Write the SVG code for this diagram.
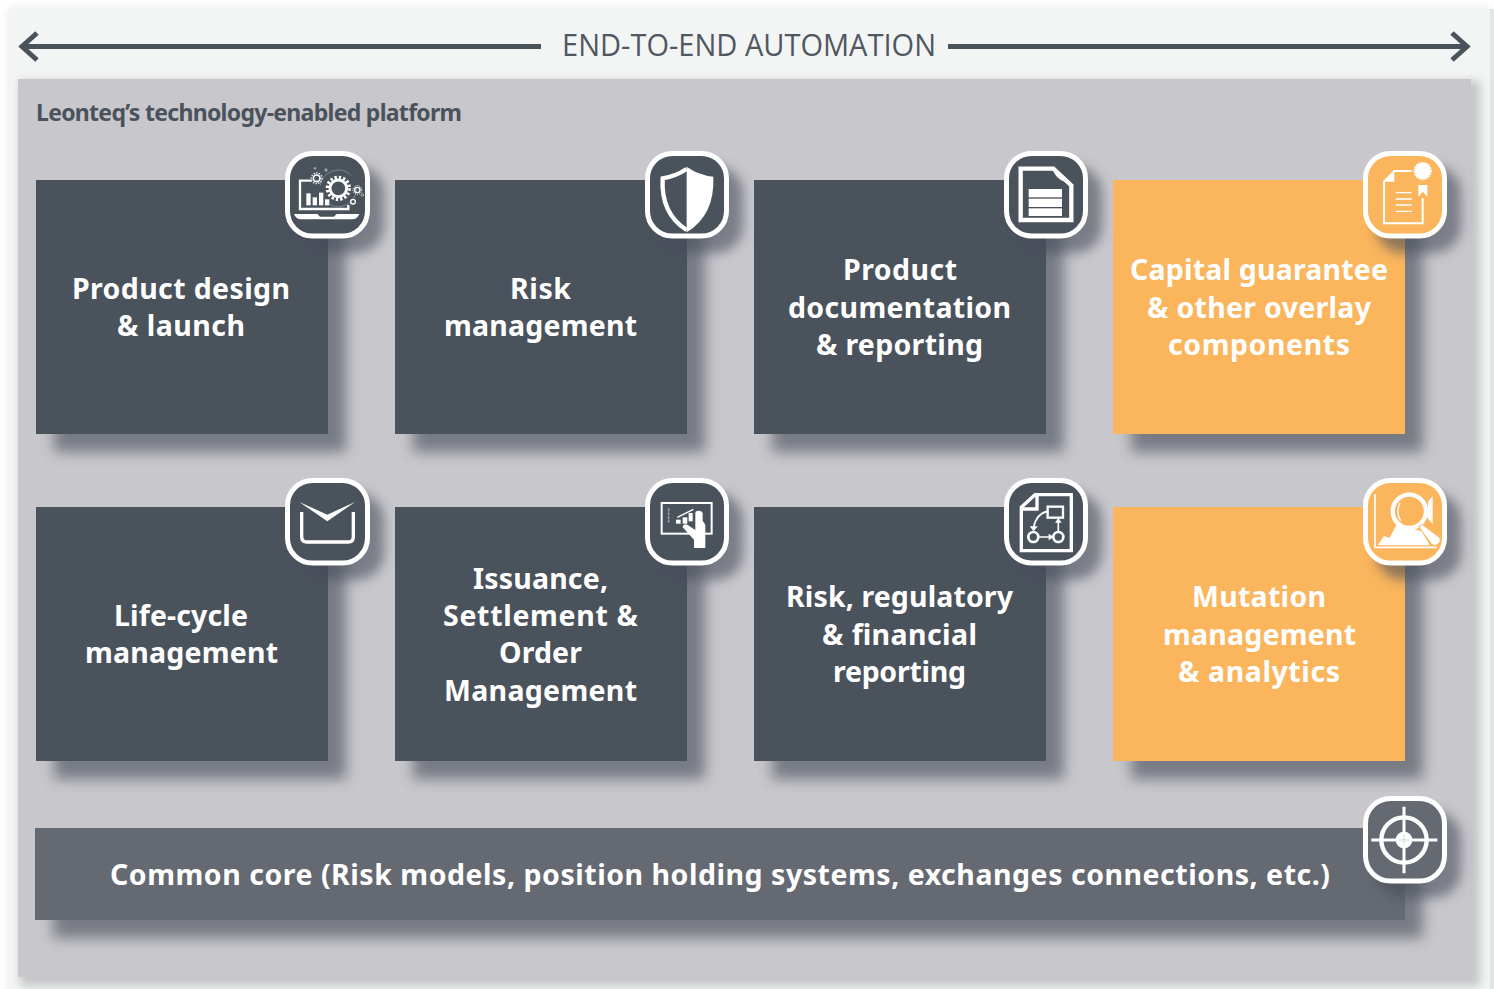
<svg xmlns="http://www.w3.org/2000/svg" width="1494" height="989" viewBox="0 0 1494 989">
<defs>
<filter id="blur" x="-30%" y="-30%" width="160%" height="160%"><feGaussianBlur stdDeviation="7"/></filter>
<filter id="blurS" x="-30%" y="-30%" width="160%" height="160%"><feGaussianBlur stdDeviation="6"/></filter>
<filter id="blurP" x="-5%" y="-5%" width="110%" height="110%"><feGaussianBlur stdDeviation="5"/></filter>
</defs>
<style>
.dark{fill:#4a525c}
.org{fill:#fbb55c}
.core{fill:#656972}
.sh{fill:#474d5a;opacity:.62;filter:url(#blur)}
.bs{fill:#474d5a;opacity:.6;filter:url(#blurS)}
.t{font-family:"Noto Sans","Open Sans",sans-serif;font-weight:700;font-size:28.5px;fill:#fff}
.ol{fill:none;stroke:#fff;stroke-linejoin:miter}
.f{fill:#fff}
.b{stroke:#fff;stroke-width:5}
.ar{fill:none;stroke:#4a525c;stroke-width:5}
</style>
<rect width="1494" height="989" fill="#fff"/>
<rect x="9" y="9" width="1481" height="985" fill="#c9cbcb" opacity=".5" filter="url(#blurP)"/>
<rect x="9" y="9" width="1481" height="980" fill="#f3f5f4"/>
<rect x="1490" y="9" width="4" height="980" fill="#e3e4e4"/>
<rect x="20" y="81" width="1460" height="905" fill="#8a8a90" opacity=".45" filter="url(#blurP)"/>
<rect x="18" y="79" width="1453" height="898" fill="#c8c7cb"/>

<g id="connectors">
<path class="ar" d="M22 46.5H541M37 33L22 46.5L37 60"/>
<path class="ar" d="M948 46.5H1467M1452 33L1467 46.5L1452 60"/>
</g>
<text id="title" x="562" y="56" textLength="374" lengthAdjust="spacingAndGlyphs" style="font-family:'Open Sans','Noto Sans',sans-serif;font-size:31px;fill:#4f5761">END-TO-END AUTOMATION</text>
<text id="subtitle" x="36" y="121" textLength="426" style="font-family:'Noto Sans','Open Sans',sans-serif;font-weight:700;font-size:23px;fill:#4a525c">Leonteq’s technology-enabled platform</text>

<g id="shadows">
<rect class="sh" x="54" y="198" width="292" height="254"/><rect class="sh" x="413" y="198" width="292" height="254"/><rect class="sh" x="772" y="198" width="292" height="254"/><rect class="sh" x="1131" y="198" width="292" height="254"/>
<rect class="sh" x="54" y="525" width="292" height="254"/><rect class="sh" x="413" y="525" width="292" height="254"/><rect class="sh" x="772" y="525" width="292" height="254"/><rect class="sh" x="1131" y="525" width="292" height="254"/>
<rect class="sh" x="53" y="846" width="1370" height="92"/>
</g>

<g id="node-product-design">
<rect class="dark" x="36" y="180" width="292" height="254"/>
<text class="t" x="72" y="299" textLength="218">Product design</text>
<text class="t" x="117" y="336" textLength="128">&amp; launch</text>
<rect class="bs" x="299" y="166" width="85" height="87" rx="27"/>
<rect class="dark b" x="287.5" y="153.5" width="80" height="82.5" rx="25"/>
<g transform="translate(270,140) scale(.3333)">
<path class="ol" stroke-width="7" d="M235 195V207H90V122H125"/>
<path class="f" d="M72 222H142L150 230H192L200 222H268Q262 238 246 238H94Q78 238 72 222Z"/>
<rect class="f" x="109" y="160" width="13" height="36"/><rect class="f" x="128" y="172" width="13" height="24"/><rect class="f" x="147" y="158" width="13" height="38"/><rect class="f" x="165" y="178" width="13" height="18"/>
<circle cx="205" cy="145" r="25" fill="none" stroke="#fff" stroke-width="9"/>
<circle cx="205" cy="145" r="33" fill="none" stroke="#fff" stroke-width="10" stroke-dasharray="7 6"/>
<circle cx="205" cy="145" r="55" fill="none" stroke="#aeb2b8" stroke-width="1.5" stroke-dasharray="120 60"/>
<circle cx="140" cy="115" r="10" fill="none" stroke="#fff" stroke-width="5"/><circle cx="140" cy="115" r="16" fill="none" stroke="#fff" stroke-width="4" stroke-dasharray="4 4"/>
<circle cx="262" cy="150" r="8" fill="none" stroke="#fff" stroke-width="4"/><circle cx="262" cy="150" r="13" fill="none" stroke="#fff" stroke-width="3" stroke-dasharray="3 3"/>
<circle cx="249" cy="185" r="7" fill="none" stroke="#fff" stroke-width="4"/>
<circle cx="277" cy="165" r="4" fill="none" stroke="#aeb2b8" stroke-width="3"/>
<circle cx="135" cy="85" r="4" fill="#9a9ea5"/><circle cx="168" cy="90" r="5" fill="#9a9ea5"/>
</g>
</g>

<g id="node-risk-management">
<rect class="dark" x="395" y="180" width="292" height="254"/>
<text class="t" x="510" y="299" textLength="61">Risk</text>
<text class="t" x="444" y="336" textLength="193">management</text>
<rect class="bs" x="658" y="166" width="85" height="87" rx="27"/>
<rect class="dark b" x="647.5" y="153.5" width="79" height="82.5" rx="25"/>
<g transform="translate(630,140) scale(.3333)">
<path class="f" d="M170 80Q205 105 250 110Q255 225 170 277Z"/>
<path class="ol" stroke-width="13" d="M170 87Q135 110 98 115Q92 220 170 270"/>
</g>
</g>

<g id="node-product-documentation">
<rect class="dark" x="754" y="180" width="292" height="254"/>
<text class="t" x="843" y="280" textLength="114">Product</text>
<text class="t" x="788" y="318" textLength="223">documentation</text>
<text class="t" x="816" y="355" textLength="167">&amp; reporting</text>
<rect class="bs" x="1017" y="166" width="85" height="87" rx="27"/>
<rect class="dark b" x="1006.5" y="153.5" width="79" height="82.5" rx="25"/>
<g transform="translate(990,140) scale(.3333)">
<path class="ol" stroke-width="13" d="M92 86H190L244 136V240H92Z"/>
<path class="f" d="M188 84Q196 124 244 130L192 80Z"/>
<rect class="f" x="116" y="147" width="100" height="25"/><rect class="f" x="116" y="176" width="100" height="25"/><rect class="f" x="116" y="205" width="100" height="23"/>
</g>
</g>

<g id="node-capital-guarantee">
<rect class="org" x="1113" y="180" width="292" height="254"/>
<text class="t" x="1130" y="280" textLength="258">Capital guarantee</text>
<text class="t" x="1147" y="318" textLength="224">&amp; other overlay</text>
<text class="t" x="1168" y="355" textLength="182">components</text>
<rect class="bs" x="1376" y="166" width="85" height="87" rx="27"/>
<rect class="org b" x="1365.5" y="153.5" width="79" height="82.5" rx="25"/>
<g transform="translate(1350,140) scale(.3333)">
<path class="ol" stroke-width="6" d="M185 93H133L102 125V250H218V175"/>
<path class="f" d="M133 93V125H102Z"/>
<path class="ol" stroke-width="4" d="M137 158H185M137 177H185M137 195H185M137 214H185"/>
<circle class="f" cx="218" cy="93" r="24"/><circle cx="218" cy="93" r="25" fill="none" stroke="#fff" stroke-width="5" stroke-dasharray="5 3"/>
<path class="f" d="M205 135H232V170L218 155L205 170Z"/>
</g>
</g>

<g id="node-lifecycle">
<rect class="dark" x="36" y="507" width="292" height="254"/>
<text class="t" x="114" y="626" textLength="134">Life-cycle</text>
<text class="t" x="85" y="663" textLength="193">management</text>
<rect class="bs" x="299" y="493" width="85" height="87" rx="27"/>
<rect class="dark b" x="287.5" y="480.5" width="80" height="82.5" rx="25"/>
<g transform="translate(270,468) scale(.3333)">
<path class="f" d="M88 102L172 140L255 102L172 160Z"/>
<path class="ol" stroke-width="10" d="M95 132V206Q95 222 111 222H235Q250 222 250 206V132"/>
</g>
</g>

<g id="node-issuance">
<rect class="dark" x="395" y="507" width="292" height="254"/>
<text class="t" x="473" y="589" textLength="135">Issuance,</text>
<text class="t" x="443" y="626" textLength="195">Settlement &amp;</text>
<text class="t" x="499" y="663" textLength="83">Order</text>
<text class="t" x="444" y="701" textLength="193">Management</text>
<rect class="bs" x="658" y="493" width="85" height="87" rx="27"/>
<rect class="dark b" x="647.5" y="480.5" width="79" height="82.5" rx="25"/>
<g transform="translate(630,468) scale(.3333)">
<rect class="ol" stroke-width="6" x="95" y="105" width="150" height="92"/>
<path d="M116 118V165M112 125H120M112 137H120M112 149H120M112 160H120" fill="none" stroke="#aeb2b8" stroke-width="2"/>
<path d="M142 148L190 124" fill="none" stroke="#fff" stroke-width="4"/>
<rect class="f" x="138" y="155" width="14" height="12"/><rect class="f" x="158" y="148" width="14" height="19"/><rect class="f" x="176" y="135" width="12" height="25"/>
<path class="f" d="M196 135Q197 128 206 128Q216 128 218 136V158L226 170V240H192V215L158 178Q160 165 172 170L196 186Z"/>
</g>
</g>

<g id="node-risk-regulatory">
<rect class="dark" x="754" y="507" width="292" height="254"/>
<text class="t" x="786" y="607" textLength="227">Risk, regulatory</text>
<text class="t" x="822" y="645" textLength="155">&amp; financial</text>
<text class="t" x="833" y="682" textLength="133">reporting</text>
<rect class="bs" x="1017" y="493" width="85" height="87" rx="27"/>
<rect class="dark b" x="1006.5" y="480.5" width="79" height="82.5" rx="25"/>
<g transform="translate(990,468) scale(.3333)">
<path class="ol" stroke-width="10" d="M94 118L135 80H244V248H94Z"/>
<path class="f" d="M136 78H146V128H94V118H136Z"/>
<rect class="ol" stroke-width="7" x="173" y="116" width="46" height="33"/>
<circle class="ol" stroke-width="8" cx="130" cy="207" r="15"/><circle class="ol" stroke-width="8" cx="205" cy="207" r="15"/>
<path class="ol" stroke-width="5" d="M146 207H180M205 191V160M172 130Q138 138 131 178"/>
<path class="f" d="M176 197L191 207L176 217ZM195 164L205 150L215 164ZM119 175L143 175L131 190Z"/>
</g>
</g>

<g id="node-mutation">
<rect class="org" x="1113" y="507" width="292" height="254"/>
<text class="t" x="1192" y="607" textLength="134">Mutation</text>
<text class="t" x="1163" y="645" textLength="193">management</text>
<text class="t" x="1178" y="682" textLength="162">&amp; analytics</text>
<rect class="bs" x="1376" y="493" width="85" height="87" rx="27"/>
<rect class="org b" x="1365.5" y="480.5" width="79" height="82.5" rx="25"/>
<g transform="translate(1350,468) scale(.3333)">
<path class="ol" stroke-width="5" d="M75 78V238H260"/>
<path class="f" d="M83 232L102 204L118 210L140 170L215 190L240 232Z"/>
<path class="f" d="M235 100L248 85V168L232 150Z"/>
<circle cx="178" cy="130" r="50" fill="#fbb55c" stroke="#fff" stroke-width="13"/>
<path d="M150 105Q136 135 152 158" fill="none" stroke="#fff" stroke-width="4"/>
<path d="M206 176L218 170L268 208Q276 220 262 230Q252 236 244 228Z" fill="#fff" stroke="#fbb55c" stroke-width="3"/>
</g>
</g>

<g id="node-common-core">
<rect class="core" x="35" y="828" width="1370" height="92"/>
<text class="t" x="110" y="885" textLength="1220">Common core (Risk models, position holding systems, exchanges connections, etc.)</text>
<rect class="bs" x="1376" y="811" width="85" height="87" rx="27"/>
<rect class="core b" x="1365.5" y="798.5" width="79" height="82.5" rx="25"/>
<g transform="translate(1350,785) scale(.3333)">
<circle class="ol" stroke-width="13" cx="162" cy="165" r="68"/>
<path class="ol" stroke-width="9" d="M64 165H262M162 65V265"/>
<circle class="f" cx="162" cy="165" r="25"/>
<path d="M162 152V178M149 165H175" fill="none" stroke="#8a8e95" stroke-width="2" stroke-dasharray="4 4"/>
</g>
</g>
</svg>
